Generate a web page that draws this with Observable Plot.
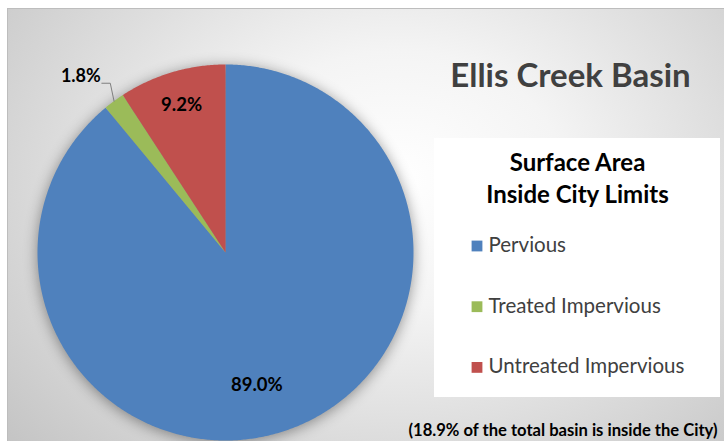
<!DOCTYPE html>
<html>
<head>
<meta charset="utf-8">
<script src="https://cdn.jsdelivr.net/npm/d3@7"></script>
<script src="https://cdn.jsdelivr.net/npm/@observablehq/plot@0.6"></script>
<style>
  body { margin: 0; background: #ffffff; }
  #chart { position: relative; width: 724px; height: 441px; overflow: hidden; font-family: Lato, "Open Sans", sans-serif; }
  #bg { position: absolute; left: 7px; top: 8px; width: 780px; height: 500px;
        border-left: 1.5px solid #bdbdbd; border-top: 1.5px solid #bdbdbd;
        background: radial-gradient(ellipse 520px 400px at 390px 170px, #ffffff 0%, #f4f4f4 32%, #c4c4c4 100%); }
  #legendbox { position: absolute; left: 434px; top: 138px; width: 286px; height: 259px; background: #ffffff; }
  #plot { position: absolute; left: 0; top: 0; }
  #plot svg { background: transparent; }
</style>
</head>
<body>
<div id="chart">
  <div id="bg"></div>
  <div id="legendbox"></div>
  <div id="plot"></div>
</div>
<script>
// ---- data ----
const categories = ["Pervious", "Treated Impervious", "Untreated Impervious"];
const shares = [89.0, 1.8, 9.2];
const colors = ["#4F81BD", "#9BBB59", "#C0504D"];
const chartTitle = "Ellis Creek Basin";
const legendTitle = ["Surface Area", "Inside City Limits"];
const captionText = "(18.9% of the total basin is inside the City)";

// ---- layout ----
const W = 724, H = 441, cx = 225, cy = 252, R = 188;

const data = categories.map((c, i) => ({category: c, share: shares[i]}));
const arcs = d3.pie().sort(null).value(d => d.share)(data);

const slicePts = arcs.flatMap(a => {
  const n = Math.max(2, Math.ceil((a.endAngle - a.startAngle) * 180 / Math.PI * 2));
  const p = [{category: a.data.category, x: 0, y: 0}];
  for (let i = 0; i <= n; i++) {
    const t = a.startAngle + (a.endAngle - a.startAngle) * i / n;
    p.push({category: a.data.category, x: Math.sin(t), y: Math.cos(t)});
  }
  p.push({category: a.data.category, x: 0, y: 0});
  return p;
});

const fmt = d => d3.format(".1f")(d) + "%";
const inside = [], outside = [], leaders = [];
arcs.forEach(a => {
  const m = (a.startAngle + a.endAngle) / 2;
  if (a.data.share < 5) {
    const ex = Math.sin(m), ey = Math.cos(m);
    const bx = ex - 0.02, by = ey + 0.095;
    const tx = bx - 0.045, ty = by;
    leaders.push({x: ex, y: ey, k: a.data.category}, {x: bx, y: by, k: a.data.category}, {x: tx, y: ty, k: a.data.category});
    outside.push({x: tx, y: ty, text: fmt(a.data.share)});
  } else if (a.data.share > 50) {
    const t = m + 6.5 * Math.PI / 180, r = 0.725;
    inside.push({x: r * Math.sin(t), y: r * Math.cos(t), text: fmt(a.data.share)});
  } else {
    const r = 0.82;
    inside.push({x: r * Math.sin(m), y: r * Math.cos(m), text: fmt(a.data.share)});
  }
});

const legendMarks = categories.flatMap((c, i) => [
  Plot.dot([c], {frameAnchor: "top-left", dx: 476.5, dy: 245.5 + i * 60.7, symbol: "square", r: 6.1, fill: colors[i], stroke: null}),
  Plot.text([c], {frameAnchor: "top-left", dx: 488, dy: 251.5 + i * 60.7, textAnchor: "start", lineAnchor: "bottom",
    fontSize: 20.5, fill: "#404040"})
]);

const plot = Plot.plot({
  width: W, height: H,
  marginTop: 0, marginRight: 0, marginBottom: 0, marginLeft: 0,
  style: {background: "transparent", fontFamily: "Lato, 'Open Sans', sans-serif"},
  x: {domain: [-cx / R, (W - cx) / R], axis: null},
  y: {domain: [-(H - cy) / R, cy / R], axis: null},
  color: {domain: categories, range: colors},
  marks: [
    Plot.line(slicePts, {x: "x", y: "y", z: "category", fill: "category", stroke: null}),
    Plot.line(leaders, {x: "x", y: "y", z: "k", stroke: "#7f7f7f", strokeWidth: 1}),
    Plot.text(inside, {x: "x", y: "y", text: "text", fontSize: 18.5, fontWeight: "bold", fill: "#000000", lineAnchor: "middle"}),
    Plot.text(outside, {x: "x", y: "y", text: "text", fontSize: 18, fontWeight: "bold", fill: "#000000", textAnchor: "end", lineAnchor: "bottom", dx: -1, dy: -1}),
    Plot.text([chartTitle], {frameAnchor: "top-left", dx: 570, dy: 86, textAnchor: "middle", lineAnchor: "bottom",
      fontSize: 33, fontWeight: "bold", fill: "#404040"}),
    Plot.text([legendTitle[0]], {frameAnchor: "top-left", dx: 577, dy: 170, textAnchor: "middle", lineAnchor: "bottom",
      fontSize: 24, fontWeight: "bold", fill: "#000000"}),
    Plot.text([legendTitle[1]], {frameAnchor: "top-left", dx: 577, dy: 202, textAnchor: "middle", lineAnchor: "bottom",
      fontSize: 24, fontWeight: "bold", fill: "#000000"}),
    ...legendMarks,
    Plot.text([captionText], {frameAnchor: "top-left", dx: 408, dy: 435, textAnchor: "start", lineAnchor: "bottom",
      fontSize: 16.6, fontWeight: "bold", fill: "#000000"})
  ]
});

const pieG = plot.querySelector('g[aria-label="line"]');
if (pieG) pieG.style.filter = "drop-shadow(0px 2px 7px rgba(0,0,0,0.4))";
document.getElementById("plot").appendChild(plot);
</script>
</body>
</html>
